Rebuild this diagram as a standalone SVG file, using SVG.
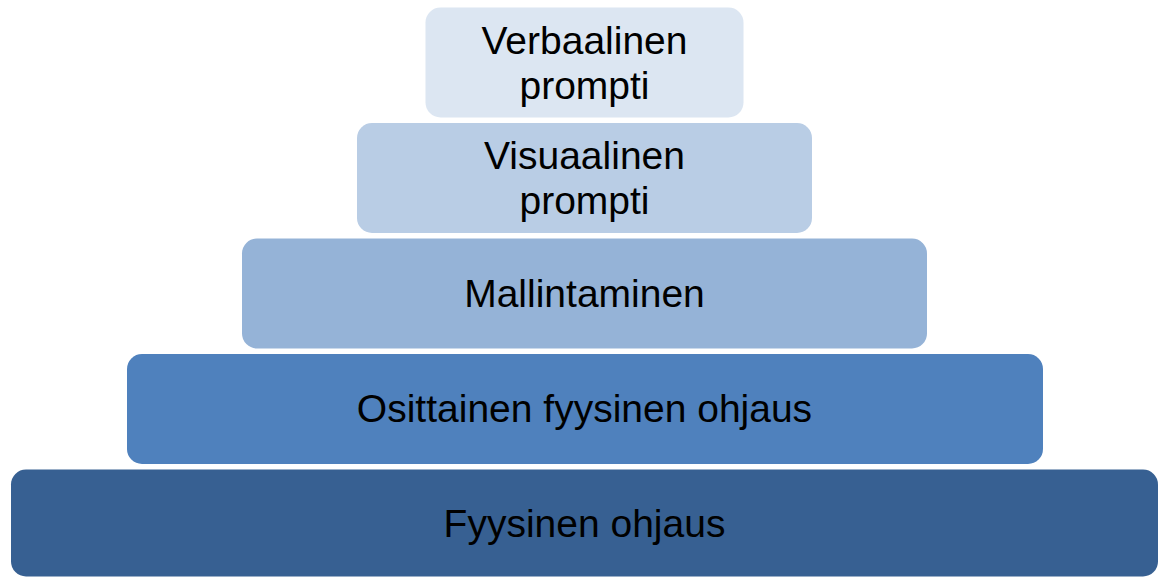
<svg xmlns="http://www.w3.org/2000/svg" width="1159" height="577" viewBox="0 0 1159 577">
<style>
text{font-family:"Liberation Sans",Arial,sans-serif;font-size:39px;fill:#000;text-anchor:middle}
</style>
<rect width="1159" height="577" fill="#fff"/>
<g id="n1"><rect x="425.5" y="7.5" width="318" height="110" rx="15" fill="#DCE6F2"/><text x="584.5" y="54">Verbaalinen</text><text x="584.5" y="99">prompti</text></g>
<g id="n2"><rect x="357" y="123" width="455" height="110" rx="15" fill="#B9CDE5"/><text x="584.5" y="169">Visuaalinen</text><text x="584.5" y="214">prompti</text></g>
<g id="n3"><rect x="242" y="238.5" width="685" height="110" rx="15" fill="#95B3D7"/><text x="584.5" y="307">Mallintaminen</text></g>
<g id="n4"><rect x="127" y="354" width="916" height="110" rx="15" fill="#4F81BD"/><text x="584.5" y="422">Osittainen fyysinen ohjaus</text></g>
<g id="n5"><rect x="11" y="469.5" width="1147" height="107" rx="15" fill="#376092"/><text x="584.5" y="537">Fyysinen ohjaus</text></g>
<g id="connectors"/>
</svg>
